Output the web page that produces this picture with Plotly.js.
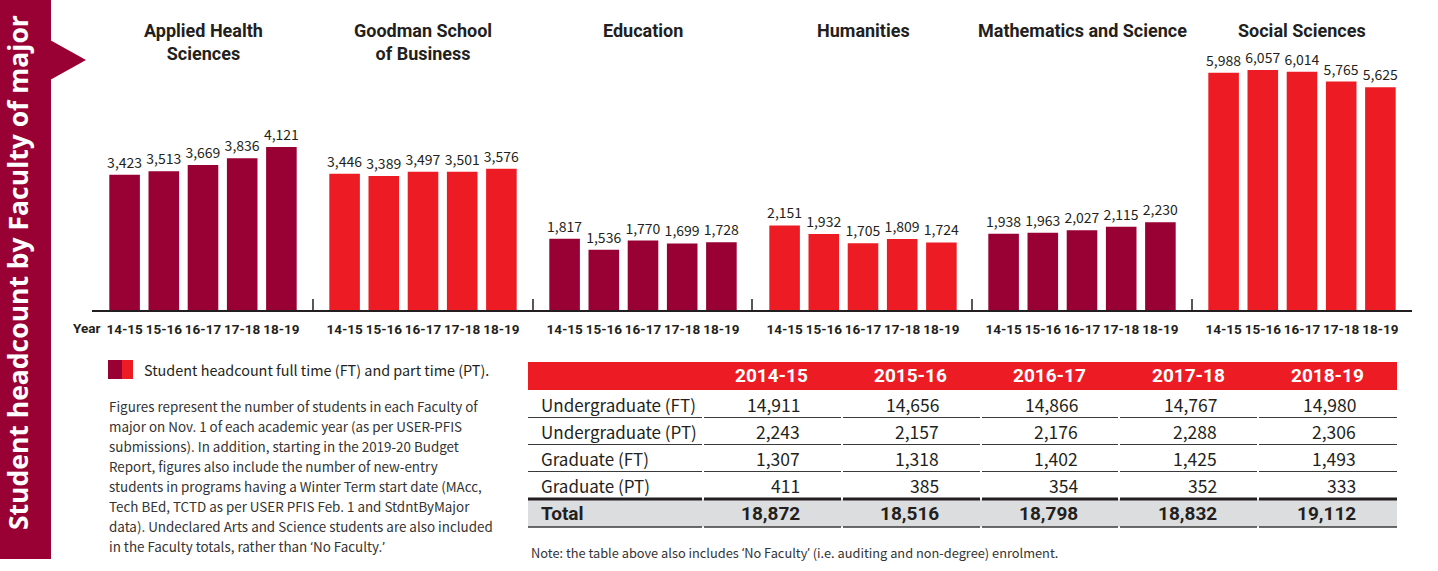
<!DOCTYPE html>
<html>
<head>
<meta charset="utf-8">
<script src="https://cdn.plot.ly/plotly-3.0.1.min.js"></script>
<style>html,body{margin:0;padding:0;background:#fff;}#chart{width:1438px;height:571px;}</style>
</head>
<body>
<div id="chart"></div>
<script>
// ---------------- DATA ----------------
const years = ['14-15', '15-16', '16-17', '17-18', '18-19'];
const faculties = ['Applied Health<br>Sciences', 'Goodman School<br>of Business', 'Education', 'Humanities', 'Mathematics and Science', 'Social Sciences'];
const appliedHealth = [3423, 3513, 3669, 3836, 4121];
const goodman = [3446, 3389, 3497, 3501, 3576];
const education = [1817, 1536, 1770, 1699, 1728];
const humanities = [2151, 1932, 1705, 1809, 1724];
const mathScience = [1938, 1963, 2027, 2115, 2230];
const socialSciences = [5988, 6057, 6014, 5765, 5625];

const tableYears = ['2014-15', '2015-16', '2016-17', '2017-18', '2018-19'];
const rowLabels = ['Undergraduate (FT)', 'Undergraduate (PT)', 'Graduate (FT)', 'Graduate (PT)'];
const undergradFT = [14911, 14656, 14866, 14767, 14980];
const undergradPT = [2243, 2157, 2176, 2288, 2306];
const gradFT = [1307, 1318, 1402, 1425, 1493];
const gradPT = [411, 385, 354, 352, 333];
const totals = [18872, 18516, 18798, 18832, 19112];

const LQ = '<span style="font-family:Roboto">\u2018</span>';
const RQ = '<span style="font-family:Roboto">\u2019</span>';
const sideTitle = 'Student headcount by Faculty of major';
const legendText = 'Student headcount full time (FT) and part time (PT).';
const notesLines = [
  'Figures represent the number of students in each Faculty of',
  'major on Nov. 1 of each academic year (as per USER-PFIS',
  'submissions). In addition, starting in the 2019-20 Budget',
  'Report, figures also include the number of new-entry',
  'students in programs having a Winter Term start date (MAcc,',
  'Tech BEd, TCTD as per USER PFIS Feb. 1 and StdntByMajor',
  'data). Undeclared Arts and Science students are also included',
  'in the Faculty totals, rather than ' + LQ + 'No Faculty.' + RQ
];
const tableNote = 'Note: the table above also includes ' + LQ + 'No Faculty' + RQ + ' (i.e. auditing and non-degree) enrolment.';

// ---------------- STYLE / LAYOUT ----------------
const W = 1438, H = 571;
const X = p => p / W;
const Y = p => 1 - p / H;
const MAROON = '#990033';
const RED = '#ED1C24';
const INK = '#231F20';
const BODY = '"Noto Sans CJK SC", "Source Sans Pro", Roboto, sans-serif';
const TITLEF = 'Roboto, "Open Sans", sans-serif';

const series = [appliedHealth, goodman, education, humanities, mathScience, socialSciences];
const groupCenters = [203, 423, 643, 863, 1082, 1302];
const halfW = 98;
const baseline = 311, pxPerUnit = 0.0398, yMax = 6400;

const traces = [];
const layout = {
  width: W, height: H, autosize: false,
  margin: {l: 0, r: 0, t: 0, b: 0, pad: 0},
  paper_bgcolor: '#ffffff', plot_bgcolor: 'rgba(0,0,0,0)',
  showlegend: false, bargap: 0.22,
  yaxis: {
    domain: [Y(baseline), Y(baseline - yMax * pxPerUnit)],
    range: [0, yMax], visible: false, fixedrange: true
  },
  shapes: [], annotations: []
};

series.forEach((vals, i) => {
  const axName = i === 0 ? 'xaxis' : 'xaxis' + (i + 1);
  const axRef = i === 0 ? 'x' : 'x' + (i + 1);
  traces.push({
    type: 'bar', x: years, y: vals, xaxis: axRef, yaxis: 'y',
    marker: {color: i % 2 === 0 ? MAROON : RED, line: {width: 0}},
    texttemplate: '%{y:,}', textposition: 'outside', cliponaxis: false, constraintext: 'none',
    textfont: {family: BODY, size: 14, color: INK},
    hoverinfo: 'skip'
  });
  layout[axName] = {
    domain: [X(groupCenters[i] - halfW), X(groupCenters[i] + halfW)],
    anchor: 'y', type: 'category', showline: false, showgrid: false, zeroline: false,
    ticks: '', tickangle: 0, automargin: false, ticklabelstandoff: 8,
    tickfont: {family: TITLEF, size: 13.5, color: INK, weight: 'bold'},
    fixedrange: true
  };
  layout.annotations.push({
    xref: 'paper', yref: 'paper', x: X(groupCenters[i]), y: Y(18),
    xanchor: 'center', yanchor: 'top', showarrow: false, align: 'center',
    text: faculties[i], font: {family: TITLEF, size: 18, color: INK, weight: 'bold'}
  });
});

// axis line + separators
layout.shapes.push({type: 'line', xref: 'paper', yref: 'paper', x0: X(92), x1: X(1412), y0: Y(311), y1: Y(311), line: {color: INK, width: 2}});
[313, 533, 752, 972, 1192].forEach(sx => {
  layout.shapes.push({type: 'line', xref: 'paper', yref: 'paper', x0: X(sx), x1: X(sx), y0: Y(299), y1: Y(311), line: {color: INK, width: 1.5}});
});
layout.annotations.push({xref: 'paper', yref: 'paper', x: X(71), y: Y(328), xanchor: 'left', yanchor: 'middle', showarrow: false,
  text: 'Year', font: {family: TITLEF, size: 13.5, color: INK, weight: 'bold'}});

// side band + arrow
layout.shapes.push({type: 'rect', xref: 'paper', yref: 'paper', x0: 0, x1: X(51), y0: Y(559), y1: 1, fillcolor: MAROON, line: {width: 0}, layer: 'below'});
layout.shapes.push({type: 'path', xref: 'paper', yref: 'paper',
  path: `M ${X(50)} ${Y(40)} L ${X(86)} ${Y(60)} L ${X(50)} ${Y(80)} Z`, fillcolor: MAROON, line: {width: 0}, layer: 'below'});
layout.annotations.push({xref: 'paper', yref: 'paper', x: X(18), y: Y(273), xanchor: 'center', yanchor: 'middle', showarrow: false,
  textangle: -90, text: sideTitle, font: {family: '"Open Sans", sans-serif', size: 26.5, color: '#ffffff', weight: 'bold'}});

// legend swatch + text
layout.shapes.push({type: 'rect', xref: 'paper', yref: 'paper', x0: X(108), x1: X(122), y0: Y(379), y1: Y(360), fillcolor: MAROON, line: {width: 0}});
layout.shapes.push({type: 'rect', xref: 'paper', yref: 'paper', x0: X(122), x1: X(133), y0: Y(379), y1: Y(360), fillcolor: RED, line: {width: 0}});
layout.annotations.push({xref: 'paper', yref: 'paper', x: X(142), y: Y(369), xanchor: 'left', yanchor: 'middle', showarrow: false,
  text: legendText, font: {family: BODY, size: 14.4, color: INK}});
notesLines.forEach((ln, k) => {
  layout.annotations.push({xref: 'paper', yref: 'paper', x: X(107), y: Y(406 + 20 * k), xanchor: 'left', yanchor: 'middle', showarrow: false,
    text: ln, font: {family: BODY, size: 13.4, color: '#333333'}});
});

// ---------------- TABLE ----------------
const tL = 528, tR = 1397;
const colBounds = [528, 703, 842, 981, 1119, 1258, 1397];
const headerTop = 362, headerBot = 390;
const rowCenters = [404, 431, 458, 485];
const totalCenter = 513;
const valRight = i => 802 + 139 * i;
const headCenter = i => 771 + 139 * i;
const fmt = v => v.toLocaleString('en-US');

layout.shapes.push({type: 'rect', xref: 'paper', yref: 'paper', x0: X(tL), x1: X(tR), y0: Y(headerBot), y1: Y(headerTop), fillcolor: RED, line: {width: 0}, layer: 'below'});
layout.shapes.push({type: 'rect', xref: 'paper', yref: 'paper', x0: X(tL), x1: X(tR), y0: Y(527), y1: Y(499), fillcolor: '#DCDDDE', line: {width: 0}, layer: 'below'});
function hSegs(yy, w, col) {
  for (let c = 0; c < colBounds.length - 1; c++) {
    layout.shapes.push({type: 'line', xref: 'paper', yref: 'paper', x0: X(colBounds[c] + (c ? 1 : 0)), x1: X(colBounds[c + 1] - (c < colBounds.length - 2 ? 1 : 0)),
      y0: Y(yy), y1: Y(yy), line: {color: col, width: w}});
  }
}
hSegs(417.5, 1.2, '#3a3a3a');
hSegs(444.5, 1.2, '#3a3a3a');
hSegs(471.5, 1.2, '#3a3a3a');
hSegs(499, 3, INK);
hSegs(527, 1.5, '#3a3a3a');

tableYears.forEach((yl, i) => {
  layout.annotations.push({xref: 'paper', yref: 'paper', x: X(headCenter(i)), y: Y(376), xanchor: 'center', yanchor: 'middle', showarrow: false,
    text: '<b>' + yl + '</b>', font: {family: TITLEF, size: 19, color: '#ffffff'}});
});
const rowsData = [undergradFT, undergradPT, gradFT, gradPT];
rowLabels.forEach((lab, r) => {
  layout.annotations.push({xref: 'paper', yref: 'paper', x: X(539), y: Y(rowCenters[r]), xanchor: 'left', yanchor: 'middle', showarrow: false,
    text: lab, font: {family: BODY, size: 17, color: INK}});
  rowsData[r].forEach((v, i) => {
    layout.annotations.push({xref: 'paper', yref: 'paper', x: X(valRight(i)), y: Y(rowCenters[r]), xanchor: 'right', yanchor: 'middle', showarrow: false,
      text: fmt(v), font: {family: BODY, size: 17.5, color: INK}});
  });
});
layout.annotations.push({xref: 'paper', yref: 'paper', x: X(539), y: Y(totalCenter), xanchor: 'left', yanchor: 'middle', showarrow: false,
  text: '<b>Total</b>', font: {family: TITLEF, size: 19, color: INK}});
totals.forEach((v, i) => {
  layout.annotations.push({xref: 'paper', yref: 'paper', x: X(valRight(i)), y: Y(totalCenter), xanchor: 'right', yanchor: 'middle', showarrow: false,
    text: '<b>' + fmt(v) + '</b>', font: {family: TITLEF, size: 19, color: INK}});
});
layout.annotations.push({xref: 'paper', yref: 'paper', x: X(529), y: Y(552), xanchor: 'left', yanchor: 'middle', showarrow: false,
  text: tableNote, font: {family: BODY, size: 12.8, color: '#333333'}});

Plotly.newPlot('chart', traces, layout, {staticPlot: true, displayModeBar: false});
</script>
</body>
</html>
